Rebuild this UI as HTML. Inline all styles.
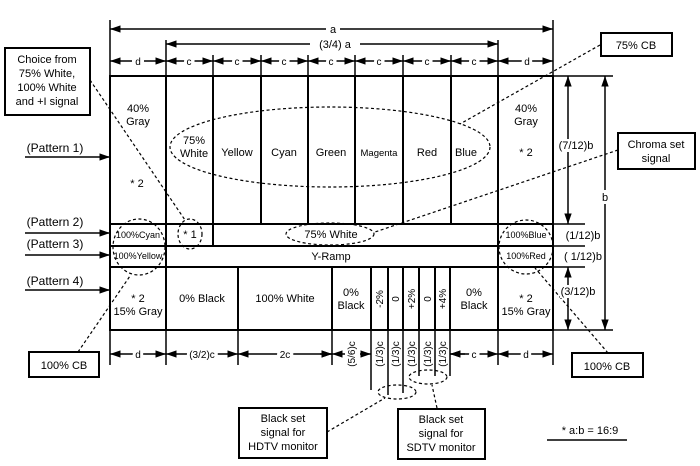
<!DOCTYPE html><html><head><style>body{margin:0;background:#fff}svg{display:block}text{font-family:"Liberation Sans",Arial,sans-serif;fill:#000}</style></head><body>
<svg width="700" height="466" viewBox="0 0 700 466" xmlns="http://www.w3.org/2000/svg">
<defs><marker id="ar" viewBox="0 0 10 10" refX="10" refY="5" markerWidth="7" markerHeight="7" orient="auto-start-reverse"><path d="M0,1.5 L10,5 L0,8.5z" fill="#000"/></marker></defs>
<g stroke="#000" fill="none" stroke-width="2">
<rect x="110" y="76" width="443" height="254"/>
<line x1="110" y1="224" x2="553" y2="224"/><line x1="110" y1="246" x2="553" y2="246"/><line x1="110" y1="267" x2="553" y2="267"/>
<path d="M166 76V267M213 76V246M261 76V224M308 76V224M355 76V224M403 76V224M451 76V224M498 76V330"/>
<path d="M166 267V330M238 267V330M332 267V330M371 267V330M388 267V330M403 267V330M419 267V330M435 267V330M450 267V330"/>
</g>
<g stroke="#000" stroke-width="1.5" fill="none">
<path d="M110 20V76M553 20V76M166 40V76M498 40V76M213 55V76M261 55V76M308 55V76M355 55V76M403 55V76M451 55V76"/>
<path d="M553 76H613M553 224H585M553 246H585M553 267H585M553 330H613"/>
<path d="M110 330V365M166 330V365M238 330V365M332 330V365M371 330V390M388 330V395M403 330V393M419 330V376M435 330V376M450 330V376M498 330V365M553 330V365"/>
</g>
<g stroke="#000" stroke-width="1.5" marker-start="url(#ar)" marker-end="url(#ar)">
<line x1="110" y1="29" x2="553" y2="29"/><line x1="166" y1="44" x2="498" y2="44"/>
<line x1="110" y1="61" x2="166" y2="61"/><line x1="166" y1="61" x2="213" y2="61"/><line x1="213" y1="61" x2="261" y2="61"/><line x1="261" y1="61" x2="308" y2="61"/><line x1="308" y1="61" x2="355" y2="61"/><line x1="355" y1="61" x2="403" y2="61"/><line x1="403" y1="61" x2="451" y2="61"/><line x1="451" y1="61" x2="498" y2="61"/><line x1="498" y1="61" x2="553" y2="61"/>
<line x1="568" y1="76" x2="568" y2="224"/><line x1="605" y1="76" x2="605" y2="330"/><line x1="568" y1="267" x2="568" y2="330"/>
<line x1="110" y1="354" x2="166" y2="354"/><line x1="166" y1="354" x2="238" y2="354"/><line x1="238" y1="354" x2="332" y2="354"/><line x1="450" y1="354" x2="498" y2="354"/><line x1="498" y1="354" x2="553" y2="354"/>
</g>
<g stroke="#000" stroke-width="1.5" marker-end="url(#ar)">
<line x1="25" y1="157" x2="110" y2="157"/><line x1="25" y1="233" x2="110" y2="233"/><line x1="25" y1="255" x2="110" y2="255"/><line x1="25" y1="290" x2="110" y2="290"/>
<line x1="320" y1="354" x2="332" y2="354"/><line x1="345" y1="354" x2="332" y2="354"/><line x1="360" y1="354" x2="371" y2="354"/><line x1="465" y1="354" x2="450" y2="354"/>
</g>
<g stroke="#000" stroke-width="1.2" fill="none" stroke-dasharray="3,2.5">
<ellipse cx="330" cy="147" rx="160" ry="40"/>
<ellipse cx="139" cy="247" rx="26" ry="28"/><ellipse cx="190" cy="234" rx="12" ry="15"/><ellipse cx="330" cy="234" rx="44" ry="11"/><ellipse cx="526" cy="247" rx="27" ry="27"/>
<ellipse cx="397" cy="392" rx="19" ry="7"/><ellipse cx="428" cy="377" rx="19" ry="7"/>
<path d="M90 80L185 220M600 45L460 124M618 150L375 232M78 352L130 276M608 353L535 268M327 432L385 398M437 408L432 385"/>
</g>
<g fill="#fff" stroke="#000" stroke-width="2">
<rect x="5" y="48" width="85" height="67"/><rect x="601" y="33" width="71" height="23"/><rect x="618" y="133" width="77" height="36"/>
<rect x="29" y="352" width="70" height="25"/><rect x="572" y="353" width="71" height="24"/><rect x="239" y="408" width="88" height="50"/><rect x="398" y="409" width="87" height="50"/>
</g>
<g font-size="11" text-anchor="middle">
<rect x="326" y="23" width="14" height="12" fill="#fff"/><text x="333" y="33">a</text>
<rect x="310" y="38" width="50" height="12" fill="#fff"/><text x="335" y="48">(3/4) a</text>
<g font-size="10"><rect x="132" y="55" width="12" height="12" fill="#fff"/><text x="138" y="65">d</text>
<text x="189" y="65" stroke="#fff" stroke-width="6" paint-order="stroke">c</text><text x="237" y="65" stroke="#fff" stroke-width="6" paint-order="stroke">c</text><text x="284" y="65" stroke="#fff" stroke-width="6" paint-order="stroke">c</text><text x="331" y="65" stroke="#fff" stroke-width="6" paint-order="stroke">c</text><text x="379" y="65" stroke="#fff" stroke-width="6" paint-order="stroke">c</text><text x="427" y="65" stroke="#fff" stroke-width="6" paint-order="stroke">c</text><text x="474" y="65" stroke="#fff" stroke-width="6" paint-order="stroke">c</text><text x="527" y="65" stroke="#fff" stroke-width="6" paint-order="stroke">d</text></g>
<text x="47" y="63">Choice from</text><text x="47" y="77">75% White,</text><text x="47" y="91">100% White</text><text x="47" y="105">and +I signal</text>
<text x="636" y="49">75% CB</text><text x="656" y="148">Chroma set</text><text x="656" y="162">signal</text>
<text x="64" y="369">100% CB</text><text x="607" y="370">100% CB</text>
<text x="283" y="422">Black set</text><text x="283" y="436">signal for</text><text x="283" y="450">HDTV monitor</text>
<text x="441" y="423">Black set</text><text x="441" y="437">signal for</text><text x="441" y="451">SDTV monitor</text>
<text x="590" y="434">* a:b = 16:9</text>
<text x="55" y="152" font-size="12">(Pattern 1)</text><text x="55" y="226" font-size="12">(Pattern 2)</text><text x="55" y="248" font-size="12">(Pattern 3)</text><text x="55" y="285" font-size="12">(Pattern 4)</text>
<text x="138" y="112">40%</text><text x="138" y="125">Gray</text><text x="137" y="187">* 2</text>
<text x="526" y="112">40%</text><text x="526" y="125">Gray</text><text x="526" y="156">* 2</text>
<text x="194" y="144">75%</text><text x="194" y="157">White</text><text x="237" y="156">Yellow</text><text x="284" y="156">Cyan</text><text x="331" y="156">Green</text><text x="379" y="156" font-size="9.5">Magenta</text><text x="427" y="156">Red</text><text x="466" y="156">Blue</text>
<text x="138" y="238" font-size="9">100%Cyan</text><text x="190" y="238">* 1</text><text x="331" y="238">75% White</text><text x="526" y="238" font-size="9">100%Blue</text>
<text x="138" y="259" font-size="9">100%Yellow</text><text x="331" y="260">Y-Ramp</text><text x="526" y="259" font-size="9">100%Red</text>
<rect x="557" y="139" width="26" height="13" fill="#fff"/><text x="576" y="149">(7/12)b</text>
<rect x="598" y="190" width="14" height="14" fill="#fff"/><text x="605" y="201">b</text>
<text x="583" y="239">(1/12)b</text><text x="583" y="260">( 1/12)b</text>
<rect x="560" y="285" width="16" height="13" fill="#fff"/><text x="578" y="295">(3/12)b</text>
<text x="138" y="302">* 2</text><text x="138" y="315">15% Gray</text><text x="526" y="302">* 2</text><text x="526" y="315">15% Gray</text>
<text x="202" y="302">0% Black</text><text x="285" y="302">100% White</text><text x="351" y="296">0%</text><text x="351" y="309">Black</text><text x="474" y="296">0%</text><text x="474" y="309">Black</text>
<text transform="translate(383,299) rotate(-90)" font-size="10">-2%</text><text transform="translate(399,299) rotate(-90)" font-size="10">0</text><text transform="translate(415,299) rotate(-90)" font-size="10">+2%</text><text transform="translate(431,299) rotate(-90)" font-size="10">0</text><text transform="translate(446,299) rotate(-90)" font-size="10">+4%</text>
<g font-size="10"><text x="138" y="358" stroke="#fff" stroke-width="6" paint-order="stroke">d</text><text x="202" y="358" stroke="#fff" stroke-width="6" paint-order="stroke">(3/2)c</text><text x="285" y="358" stroke="#fff" stroke-width="6" paint-order="stroke">2c</text><text x="474" y="358" stroke="#fff" stroke-width="6" paint-order="stroke">c</text><text x="526" y="358" stroke="#fff" stroke-width="6" paint-order="stroke">d</text>
<text transform="translate(355,354) rotate(-90)">(5/6)c</text><text transform="translate(383,354) rotate(-90)">(1/3)c</text><text transform="translate(399,354) rotate(-90)">(1/3)c</text><text transform="translate(415,354) rotate(-90)">(1/3)c</text><text transform="translate(431,354) rotate(-90)">(1/3)c</text><text transform="translate(446,354) rotate(-90)">(1/3)c</text></g>
</g>
<line x1="547" y1="440" x2="627" y2="440" stroke="#000" stroke-width="1.5"/>
</svg></body></html>
